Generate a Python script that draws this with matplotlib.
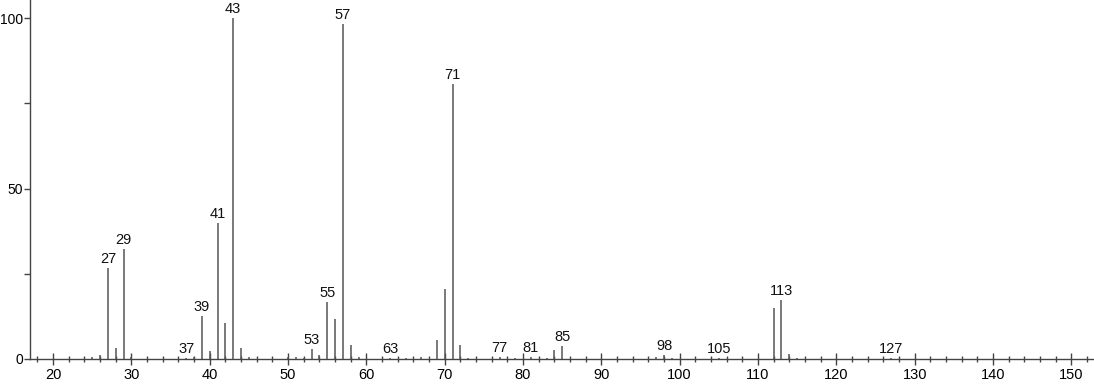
import matplotlib
matplotlib.use("Agg")
import matplotlib.pyplot as plt
from matplotlib.ticker import MultipleLocator

plt.rcParams['font.family'] = ['Liberation Sans', 'DejaVu Sans']

mz = [25, 26, 27, 28, 29, 30, 37, 38, 39, 40, 41, 42, 43, 44, 45,
      50, 51, 52, 53, 54, 55, 56, 57, 58, 59, 63, 65, 67, 69, 70, 71, 72, 73,
      77, 79, 81, 83, 84, 85, 97, 98, 99, 105, 112, 113, 114, 115, 127]
intensity = [0.5, 1.2, 26.8, 3.1, 32.2, 0.5, 0.3, 0.5, 12.6, 2.2, 39.8, 10.7, 100.0, 3.1, 0.7,
             0.5, 0.7, 0.3, 2.8, 1.2, 16.6, 11.6, 98.3, 4.2, 0.5, 0.3, 0.3, 0.7, 5.6, 20.5, 80.6, 4.1, 0.3,
             0.5, 0.3, 0.5, 0.3, 2.6, 3.8, 0.5, 1.2, 0.3, 0.3, 14.9, 17.3, 1.4, 0.3, 0.3]
labeled = [27, 29, 37, 39, 41, 43, 53, 55, 57, 63, 71, 77, 81, 85, 98, 105, 113, 127]

fig = plt.figure(figsize=(10.94, 3.84), dpi=100)
ax = fig.add_axes([30/1094, 25/384, 1 - 30/1094, 1 - 25/384])

ax.vlines(mz, 0, intensity, colors='#555555', linewidth=1.1)

for m, v in zip(mz, intensity):
    if m in labeled:
        ax.annotate(str(m), (m, v), xytext=(0, 1.5), textcoords='offset points',
                    ha='center', va='bottom', fontsize=10.5, color='#111111')

ax.set_xlim(17.05, 152.9)
ax.set_ylim(0, 105.3)

for s in ['top', 'right']:
    ax.spines[s].set_visible(False)
for s in ['left', 'bottom']:
    ax.spines[s].set_color('#444444')
    ax.spines[s].set_linewidth(1.0)

ax.xaxis.set_major_locator(MultipleLocator(10))
ax.xaxis.set_minor_locator(MultipleLocator(2))
ax.yaxis.set_major_locator(MultipleLocator(50))
ax.yaxis.set_minor_locator(MultipleLocator(25))

ax.tick_params(axis='x', which='major', direction='inout', length=9, width=1, color='#444444',
               labelsize=10.5, pad=2)
ax.tick_params(axis='x', which='minor', direction='inout', length=5, width=1, color='#444444')
ax.tick_params(axis='y', which='major', direction='out', length=4, width=1, color='#444444',
               labelsize=10, pad=1)
ax.tick_params(axis='y', which='minor', direction='out', length=4, width=1, color='#444444')

fig.savefig('out.png', dpi=100)
